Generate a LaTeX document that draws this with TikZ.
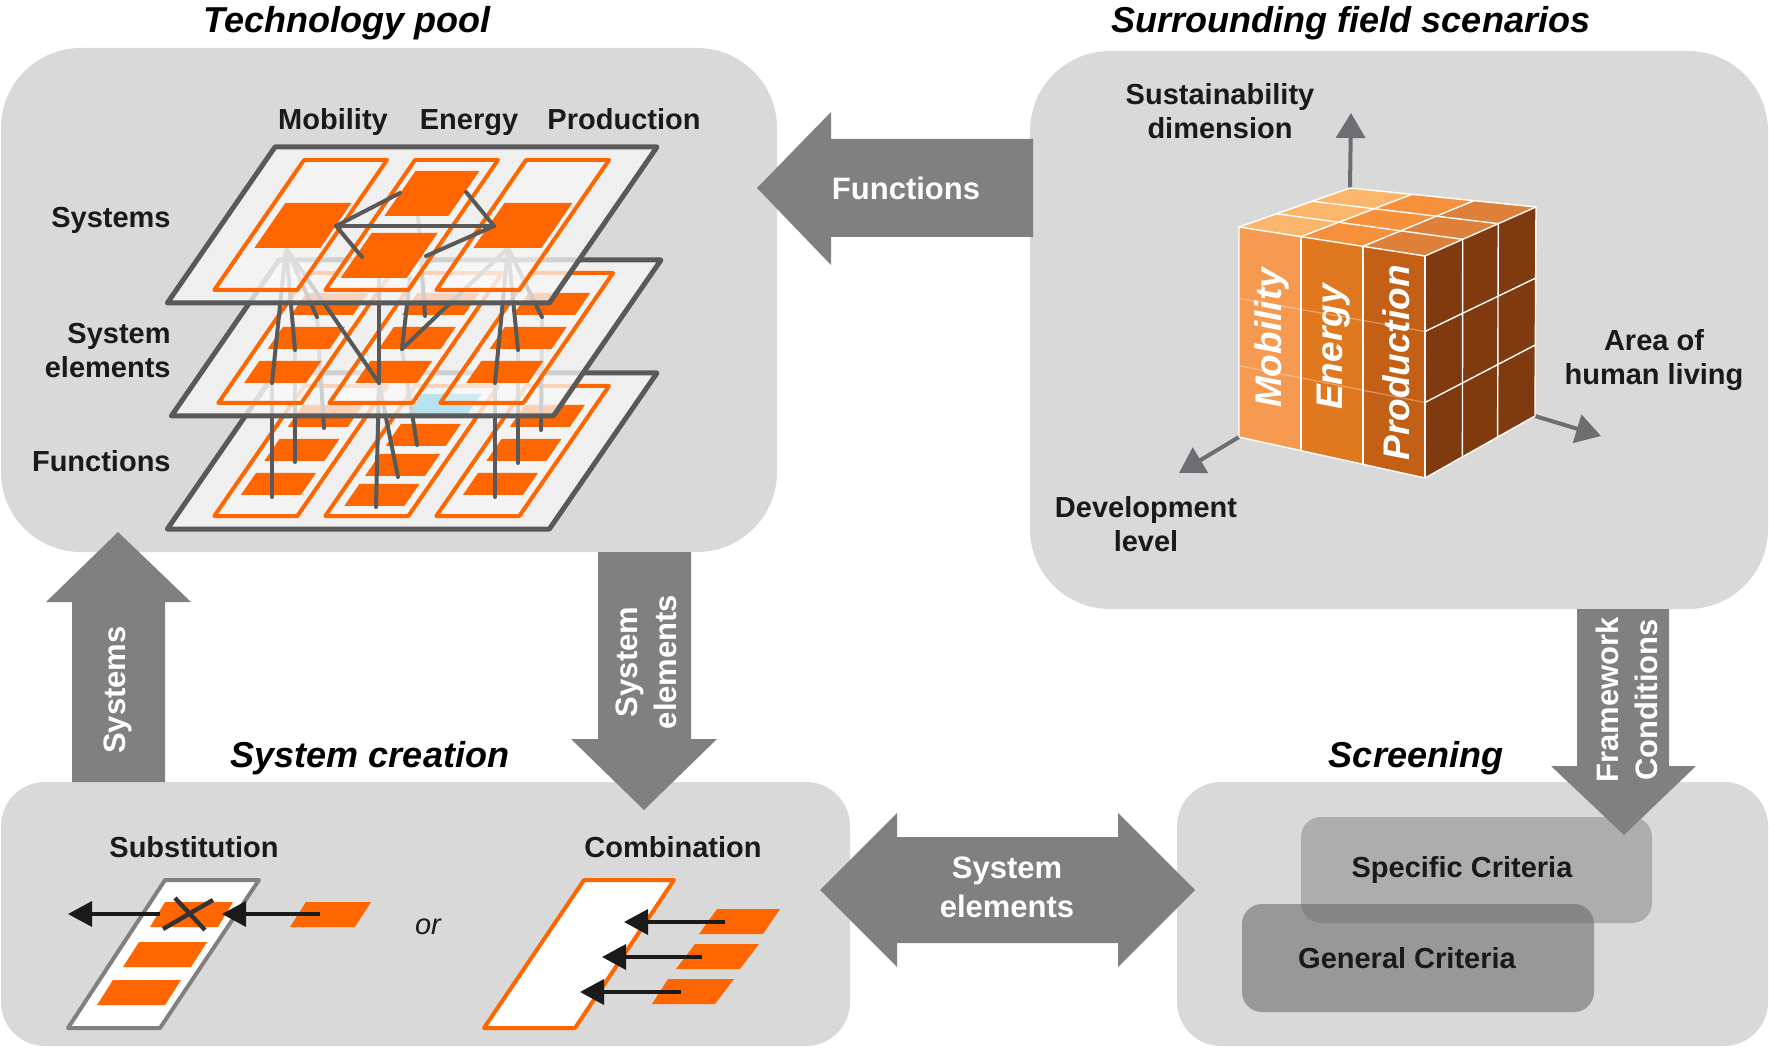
\documentclass[tikz,border=0pt]{standalone}
\usepackage{fontspec}
\setmainfont{Liberation Sans}
\usetikzlibrary{calc,arrows.meta}
\definecolor{boxgray}{HTML}{D9D9D9}
\definecolor{arrgray}{HTML}{808080}
\definecolor{org}{HTML}{FF6600}
\definecolor{edgegray}{HTML}{595959}
\definecolor{planefill}{HTML}{F7F7F7}
\definecolor{axgray}{HTML}{6D6E71}
\definecolor{cubemob}{HTML}{F59A50}
\definecolor{cubeene}{HTML}{E0781F}
\definecolor{cubepro}{HTML}{C45F16}
\definecolor{cubeside}{HTML}{7F3A10}
\definecolor{topmob}{HTML}{FBB66B}
\definecolor{topene}{HTML}{F6903A}
\definecolor{toppro}{HTML}{DE8039}
\definecolor{blueel}{HTML}{00A7DB}
\definecolor{specgray}{HTML}{ADADAD}
\definecolor{gengray}{HTML}{6C6C6C}
\definecolor{inkblack}{HTML}{1A1A1A}
\definecolor{crossgray}{HTML}{333333}
\newcommand\pgm[4]{(#1,#2) -- (#3,#2) -- (#3,#4) -- (#1,#4) -- cycle}
\begin{document}
\begin{tikzpicture}[x=0.5pt,y=-0.5pt,
  plane/.style={fill=planefill, fill opacity=0.75},
  planeedge/.style={draw=edgegray, line width=2.5pt, line join=round},
  colbox/.style={draw=org, line width=2pt, line join=round, fill=white, fill opacity=0.3},
  link/.style={draw=edgegray, line width=2pt, line cap=round, line join=round},
  lbl/.style={font=\fontsize{14.5}{17}\selectfont\bfseries, text=inkblack, align=center, inner sep=0pt},
  ttl/.style={font=\fontsize{18}{22}\selectfont\bfseries\itshape, text=black, inner sep=0pt},
  arrtxt/.style={font=\fontsize{15.5}{19.5}\selectfont\bfseries, text=white, align=center, inner sep=0pt},
  cubetxt/.style={font=\fontsize{18.5}{22}\selectfont\bfseries\itshape, text=white, inner sep=0pt, rotate=90},
  axis/.style={draw=axgray, line width=2pt, -{Triangle[length=12.5pt,width=14.5pt]}},
  blkarrow/.style={draw=inkblack, line width=1.75pt, -{Triangle[length=12pt,width=12.5pt]}},
  bigarrow/.style={fill=arrgray},
  crossline/.style={draw=crossgray, line width=2.2pt},
  cubeline/.style={draw=white, line width=0.7pt}
]
\useasboundingbox (0,0) rectangle (1769,1048);
\fill[white] (0,0) rectangle (1769,1048);

% ---------- panels ----------
\fill[boxgray, rounded corners=40pt] (1,48) rectangle (777,552);
\fill[boxgray, rounded corners=40pt] (1030,51) rectangle (1768,609);
\fill[boxgray, rounded corners=22pt] (1,782) rectangle (850,1046);
\fill[boxgray, rounded corners=22pt] (1177,782) rectangle (1768,1046);

% ---------- titles ----------
\node[ttl, anchor=base] (ttech) at (347,33) {Technology pool};
\node[ttl, anchor=base] (tsurr) at (1351,33) {Surrounding field scenarios};
\node[ttl, anchor=base] (tcrea) at (370,767) {System creation};
\node[ttl, anchor=base] (tscre) at (1416,767) {Screening};

% ---------- technology pool: labels ----------
\node[lbl, anchor=base] (cmob) at (333,130) {Mobility};
\node[lbl, anchor=base] (cene) at (469,130) {Energy};
\node[lbl, anchor=base] (cpro) at (624,130) {Production};
\node[lbl, anchor=east] (lsys) at (171,220) {Systems};
\node[lbl, anchor=east, align=right] (lse) at (171,351) {System\\elements};
\node[lbl, anchor=east] (lfun) at (171,461) {Functions};

% ---------- bottom plane (functions) ----------
\begin{scope}[shift={(275,373)}, xslant=0.69]
  \path[plane] \pgm{0}{0}{382}{156};
  \foreach \c in {38,149,260} { \path[colbox] \pgm{\c}{13}{\c+83}{143}; }
  \foreach \c in {38,260} { \foreach \r in {32,66,100} { \fill[org] \pgm{\c+12}{\r}{\c+72}{\r+22}; } }
  \foreach \r in {51,81,111} { \fill[org] \pgm{161}{\r}{221}{\r+22}; }
  \fill[blueel] \pgm{161}{21}{221}{43};
  \path[planeedge] \pgm{0}{0}{382}{156};
\end{scope}

% connectors middle -> bottom
\coordinate (m1) at (272,383); \coordinate (m2) at (295,350); \coordinate (m3) at (317,317);
\coordinate (mE) at (379,383); \coordinate (m6) at (425,316); \coordinate (mV) at (402,349);
\coordinate (p1) at (495,383); \coordinate (p2) at (518,350); \coordinate (p3) at (542,317);
\coordinate (b1) at (272,497); \coordinate (b2) at (295,462); \coordinate (b3) at (324,428);
\coordinate (b4) at (376,507); \coordinate (b5) at (398,477); \coordinate (b6) at (417,445);
\coordinate (b7) at (495,497); \coordinate (b8) at (518,463); \coordinate (b9) at (541,430);
\draw[link] (m1) -- (b1); \draw[link] (m2) -- (b2); \draw[link] (m3) -- (b3);
\draw[link] (mE) -- (b4); \draw[link] (mE) -- (b5); \draw[link] (mV) -- (b6);
\draw[link] (p1) -- (b7); \draw[link] (p2) -- (b8); \draw[link] (p3) -- (b9);

% ---------- middle plane (system elements) ----------
\begin{scope}[shift={(279,260)}, xslant=0.69]
  \path[plane] \pgm{0}{0}{382}{156};
  \foreach \c in {38,149,260} { \path[colbox] \pgm{\c}{13}{\c+83}{143}; }
  \foreach \c in {38,149,260} { \foreach \r in {33,67,101} { \fill[org] \pgm{\c+12}{\r}{\c+74}{\r+22}; } }
  \path[planeedge] \pgm{0}{0}{382}{156};
\end{scope}

% connectors top -> middle
\coordinate (tA) at (286,248); \coordinate (tP) at (508,248);
\coordinate (tE1) at (379,278); \coordinate (tE0) at (418,216); \coordinate (tE2) at (410,278);
\draw[link] (tA) -- (m1); \draw[link] (tA) -- (m2); \draw[link] (tA) -- (m3); \draw[link] (tA) -- (mE);
\draw[link] (tE1) -- (mE); \draw[link] (tE0) -- (m6); \draw[link] (tE2) -- (mV); \draw[link] (tP) -- (mV);
\draw[link] (tP) -- (p1); \draw[link] (tP) -- (p2); \draw[link] (tP) -- (p3);

% ---------- top plane (systems) ----------
\begin{scope}[shift={(275,147)}, xslant=0.69]
  \path[plane] \pgm{0}{0}{382}{156};
  \foreach \c in {38,149,260} { \path[colbox] \pgm{\c}{13}{\c+83}{143}; }
  \fill[org] \pgm{49}{56}{115}{101};
  \fill[org] \pgm{157}{24}{221}{69};
  \fill[org] \pgm{156}{86}{222}{131};
  \fill[org] \pgm{268}{56}{336}{101};
  \path[planeedge] \pgm{0}{0}{382}{156};
\end{scope}
\coordinate (h1) at (336,226); \coordinate (h2) at (494,226);
\coordinate (e1) at (400,193); \coordinate (e2) at (466,192);
\coordinate (e3) at (362,257); \coordinate (e4) at (426,256);
\draw[link] (e1) -- (h1) -- (e3);
\draw[link] (h1) -- (h2);
\draw[link] (e2) -- (h2) -- (e4);

% ---------- surrounding field: cube ----------
\coordinate (FTL) at (1239,227); \coordinate (FTR) at (1425,256);
\coordinate (FBR) at (1425,478); \coordinate (FBL) at (1239,437);
\coordinate (TBL) at (1350,188); \coordinate (TBR) at (1536,207);
\coordinate (SBB) at (1535,416);
\coordinate (axup) at (1351,113); \coordinate (axdev) at (1179,473); \coordinate (axarea) at (1601,436);
\draw[axis] (TBL) -- (axup);
\draw[axis] (FBL) -- (axdev);
\draw[axis] (SBB) -- (axarea);

% front face
\fill[cubemob] (FTL) -- ($(FTL)!1/3!(FTR)$) -- ($(FBL)!1/3!(FBR)$) -- (FBL) -- cycle;
\fill[cubeene] ($(FTL)!1/3!(FTR)$) -- ($(FTL)!2/3!(FTR)$) -- ($(FBL)!2/3!(FBR)$) -- ($(FBL)!1/3!(FBR)$) -- cycle;
\fill[cubepro] ($(FTL)!2/3!(FTR)$) -- (FTR) -- (FBR) -- ($(FBL)!2/3!(FBR)$) -- cycle;
% top face
\fill[topmob] (FTL) -- ($(FTL)!1/3!(FTR)$) -- ($(TBL)!1/3!(TBR)$) -- (TBL) -- cycle;
\fill[topene] ($(FTL)!1/3!(FTR)$) -- ($(FTL)!2/3!(FTR)$) -- ($(TBL)!2/3!(TBR)$) -- ($(TBL)!1/3!(TBR)$) -- cycle;
\fill[toppro] ($(FTL)!2/3!(FTR)$) -- (FTR) -- (TBR) -- ($(TBL)!2/3!(TBR)$) -- cycle;
% side face
\fill[cubeside] (FTR) -- (TBR) -- (SBB) -- (FBR) -- cycle;
% grid lines
\foreach \t in {0.34,0.66} {
  \draw[cubeline] ($(FTL)!\t!(TBL)$) -- ($(FTR)!\t!(TBR)$);
  \draw[cubeline] ($(FTR)!\t!(TBR)$) -- ($(FBR)!\t!(SBB)$);
  \draw[cubeline] ($(FTR)!\t!(FBR)$) -- ($(TBR)!\t!(SBB)$);
  \draw[draw=white, line width=0.6pt, draw opacity=0.35] ($(FTL)!\t!(FBL)$) -- ($(FTR)!\t!(FBR)$);
}
\foreach \t in {0.3333,0.6667} {
  \draw[cubeline] ($(FTL)!\t!(FTR)$) -- ($(TBL)!\t!(TBR)$);
  \draw[cubeline] ($(FTL)!\t!(FTR)$) -- ($(FBL)!\t!(FBR)$);
}
\draw[cubeline] (FBL) -- (FTL) -- (TBL) -- (TBR) -- (SBB) -- (FBR) -- (FBL);
\draw[cubeline] (FTL) -- (FTR) -- (TBR);
\draw[cubeline] (FTR) -- (FBR);
\node[cubetxt] (qmob) at (1272,338) {Mobility};
\node[cubetxt] (qene) at (1334,347) {Energy};
\node[cubetxt] (qpro) at (1396,363) {Production};

\node[lbl] (lsus) at (1220,111) {Sustainability\\dimension};
\node[lbl] (larea) at (1654,360) {Area of\\human living};
\node[lbl] (ldev) at (1146,524) {Development\\level};

% ---------- screening ----------
\fill[specgray, rounded corners=10pt] (1301,817) rectangle (1652,923);
\fill[gengray, fill opacity=0.59, rounded corners=10pt] (1242,904) rectangle (1594,1012);
\node[lbl] (lspec) at (1462,870) {Specific Criteria};
\node[lbl] (lgen) at (1407,958) {General Criteria};

% ---------- system creation ----------
\node[lbl] (lsub) at (194,847) {Substitution};
\node[lbl] (lcomb) at (673,847) {Combination};
\node[font=\fontsize{14.5}{17}\selectfont\itshape, text=inkblack, inner sep=0pt] (lor) at (428,927) {or};

% substitution
\draw[draw=arrgray, fill=white, line width=2pt, line join=round] (165,880) -- (259,880) -- (160,1028) -- (68,1028) -- cycle;
\fill[org] (165,902) -- (233,902) -- (218,927) -- (150,927) -- cycle;
\fill[org] (139,942) -- (207,942) -- (191,967) -- (123,967) -- cycle;
\fill[org] (113,980) -- (181,980) -- (165,1005) -- (97,1005) -- cycle;
\fill[org] (306,902) -- (371,902) -- (355,927) -- (290,927) -- cycle;
\coordinate (sA) at (160,914); \coordinate (sAt) at (68,914);
\coordinate (sB) at (320,914); \coordinate (sBt) at (222,914);
\draw[blkarrow] (sA) -- (sAt);
\draw[blkarrow] (sB) -- (sBt);
\coordinate (x1) at (175,898); \coordinate (x2) at (205,930);
\coordinate (x3) at (163,929); \coordinate (x4) at (213,900);
\draw[crossline] (x1) -- (x2);
\draw[crossline] (x3) -- (x4);

% combination
\draw[draw=org, fill=white, line width=2pt, line join=round] (584,880) -- (674,880) -- (575,1028) -- (484,1028) -- cycle;
\fill[org] (717,909) -- (780,909) -- (763,934) -- (699,934) -- cycle;
\fill[org] (695,944) -- (759,944) -- (740,969) -- (676,969) -- cycle;
\fill[org] (668,979) -- (734,979) -- (715,1004) -- (652,1004) -- cycle;
\coordinate (cA) at (725,922); \coordinate (cAt) at (624,922);
\coordinate (cB) at (702,957); \coordinate (cBt) at (602,957);
\coordinate (cC) at (681,992); \coordinate (cCt) at (580,992);
\draw[blkarrow] (cA) -- (cAt);
\draw[blkarrow] (cB) -- (cBt);
\draw[blkarrow] (cC) -- (cCt);

% ---------- big grey arrows ----------
\fill[bigarrow] (757,188) -- (831,112) -- (831,139) -- (1033,139) -- (1033,237) -- (831,237) -- (831,265) -- cycle;
\node[arrtxt] (afun) at (906,188) {Functions};

\fill[bigarrow] (118,532) -- (191,602) -- (165,602) -- (165,782) -- (72,782) -- (72,602) -- (46,602) -- cycle;
\node[arrtxt, rotate=90] (asys) at (118,690) {Systems};

\fill[bigarrow] (598,552) -- (691,552) -- (691,739) -- (717,739) -- (644,810) -- (571,739) -- (598,739) -- cycle;
\node[arrtxt, rotate=90] (ase) at (646,662) {System\\elements};

\fill[bigarrow] (1577,609) -- (1669,609) -- (1669,766) -- (1696,766) -- (1624,835) -- (1551,766) -- (1577,766) -- cycle;
\node[arrtxt, rotate=90] (afc) at (1627,700) {Framework\\Conditions};

\fill[bigarrow] (820,890) -- (897,813) -- (897,837) -- (1118,837) -- (1118,813) -- (1195,890) -- (1118,967) -- (1118,943) -- (897,943) -- (897,967) -- cycle;
\node[arrtxt] (adbl) at (1007,887) {System\\elements};
\end{tikzpicture}
\end{document}
